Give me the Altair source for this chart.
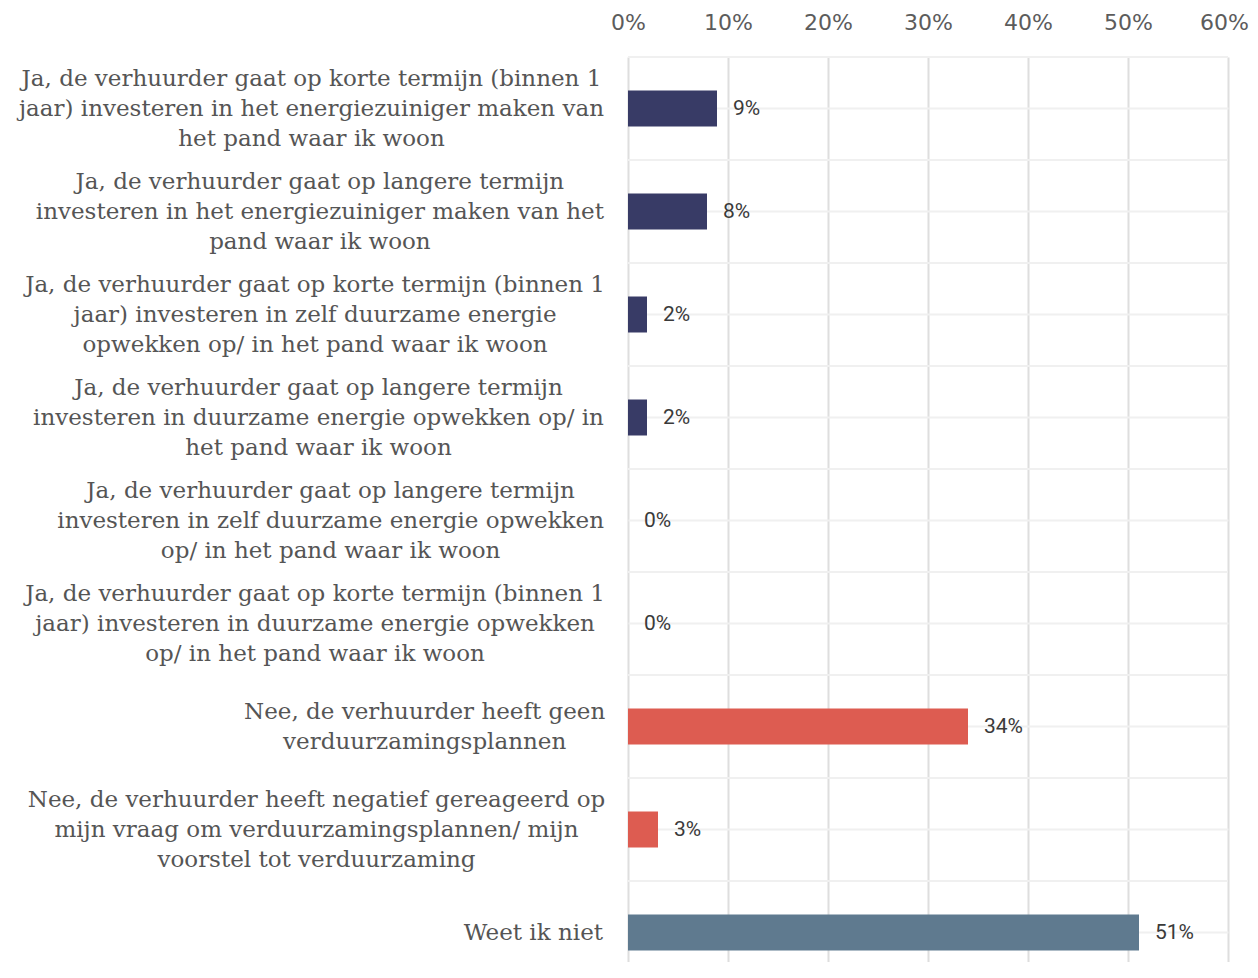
import altair as alt
import pandas as pd

labels = [
    "Ja, de verhuurder gaat op korte termijn (binnen 1|jaar) investeren in het energiezuiniger maken van|het pand waar ik woon",
    "Ja, de verhuurder gaat op langere termijn|investeren in het energiezuiniger maken van het|pand waar ik woon",
    "Ja, de verhuurder gaat op korte termijn (binnen 1|jaar) investeren in zelf duurzame energie|opwekken op/ in het pand waar ik woon",
    "Ja, de verhuurder gaat op langere termijn|investeren in duurzame energie opwekken op/ in|het pand waar ik woon",
    "Ja, de verhuurder gaat op langere termijn|investeren in zelf duurzame energie opwekken|op/ in het pand waar ik woon",
    "Ja, de verhuurder gaat op korte termijn (binnen 1|jaar) investeren in duurzame energie opwekken|op/ in het pand waar ik woon",
    "Nee, de verhuurder heeft geen|verduurzamingsplannen",
    "Nee, de verhuurder heeft negatief gereageerd op|mijn vraag om verduurzamingsplannen/ mijn|voorstel tot verduurzaming",
    "Weet ik niet",
]
values = [8.9, 7.9, 1.9, 1.9, 0.0, 0.0, 34.0, 3.0, 51.1]
groups = ["ja", "ja", "ja", "ja", "ja", "ja", "nee", "nee", "weet"]
group_domain = ["ja", "nee", "weet"]
group_colors = ["#383b66", "#dd5c51", "#5f7a8f"]
x_ticks = [0, 10, 20, 30, 40, 50, 60]

# layout settings
W = 600
H_VIEW = 905
BAND_RANGE = 927
STEP = BAND_RANGE / len(labels)
LABEL_FONT_SIZE = 23
LINE_HEIGHT = 30
LABEL_GAP = 24

# approximate glyph advance widths (em) of DejaVu Serif, used to centre label blocks
GLYPH_EM = {
    " ": .318, "a": .596, "b": .640, "c": .560, "d": .640, "e": .592, "f": .370,
    "g": .640, "h": .644, "i": .320, "j": .310, "k": .609, "l": .320, "m": .948,
    "n": .644, "o": .602, "p": .640, "r": .478, "s": .513, "t": .402, "u": .644,
    "v": .565, "w": .856, "y": .565, "z": .525, "J": .319, "N": .765, "W": 1.030,
    "(": .390, ")": .390, ",": .318, ".": .318, "/": .337, "1": .636,
}


def line_width(s):
    return sum(GLYPH_EM.get(ch, .6) for ch in s) * LABEL_FONT_SIZE


df = pd.DataFrame({"label": labels, "value": values, "group": groups})
df["nlines"] = df["label"].str.count(r"\|") + 1
df["blockw"] = df["label"].apply(lambda s: max(line_width(p) for p in s.split("|")))
df["cx"] = -(LABEL_GAP + df["blockw"] / 2)
df["yo"] = STEP / 2 - (df["nlines"] - 1) * LINE_HEIGHT / 2

y_scale = alt.Scale(paddingInner=0, paddingOuter=0, range=[0, BAND_RANGE])
y_axis = alt.Axis(
    title=None,
    labels=False,
    ticks=False,
    domain=False,
    grid=True,
    gridColor="#f0f0f0",
    gridWidth=2,
)

x_enc = alt.X(
    "value:Q",
    scale=alt.Scale(domain=[0, 60], nice=False),
    axis=alt.Axis(
        orient="top",
        title=None,
        values=x_ticks,
        labelExpr="datum.value + '%'",
        labelFont="DejaVu Sans",
        labelFontSize=22,
        labelColor="#5c5c5c",
        labelPadding=23,
        labelFlush=False,
        labelOverlap=False,
        labelOffset={"condition": {"test": "datum.value == 60", "value": -4}, "value": 0},
        ticks=False,
        domain=False,
        grid=True,
        gridColor="#dedede",
        gridWidth=2,
    ),
)

base = alt.Chart(df)

bounds = base.mark_rule(color="#f0f0f0", strokeWidth=2).encode(
    y=alt.Y("label:N", sort=None, bandPosition=0, scale=y_scale, axis=y_axis),
    x=alt.value(0),
    x2=alt.value(W),
)

bars = base.mark_bar(size=36).encode(
    y=alt.Y("label:N", sort=None, scale=y_scale, axis=y_axis),
    x=x_enc,
    color=alt.Color(
        "group:N",
        scale=alt.Scale(domain=group_domain, range=group_colors),
        legend=None,
    ),
)

values_text = base.transform_calculate(
    txt="format(datum.value, '.0f') + '%'"
).mark_text(
    align="left", baseline="middle", dx=16, font="Roboto", fontSize=21, color="#3a3a3a"
).encode(
    y=alt.Y("label:N", sort=None, scale=y_scale, axis=y_axis),
    x=alt.X("value:Q"),
    text="txt:N",
)

cat_text = base.mark_text(
    align="center",
    baseline="middle",
    lineBreak="|",
    lineHeight=LINE_HEIGHT,
    font="DejaVu Serif",
    fontSize=LABEL_FONT_SIZE,
    color="#555555",
).encode(
    y=alt.Y("label:N", sort=None, scale=y_scale, axis=y_axis),
    yOffset=alt.YOffset("yo:Q", scale=None),
    x=alt.X("cx:Q", scale=None),
    text="label:N",
)

chart = (
    alt.layer(bounds, bars, values_text, cat_text)
    .properties(
        width=W,
        height=H_VIEW,
        autosize=alt.AutoSizeParams(type="none"),
        padding={"left": 620, "top": 49, "right": 22, "bottom": 0},
    )
    .configure_view(stroke="transparent")
)

chart.save("out.html", embed_options={"renderer": "svg", "actions": False})
